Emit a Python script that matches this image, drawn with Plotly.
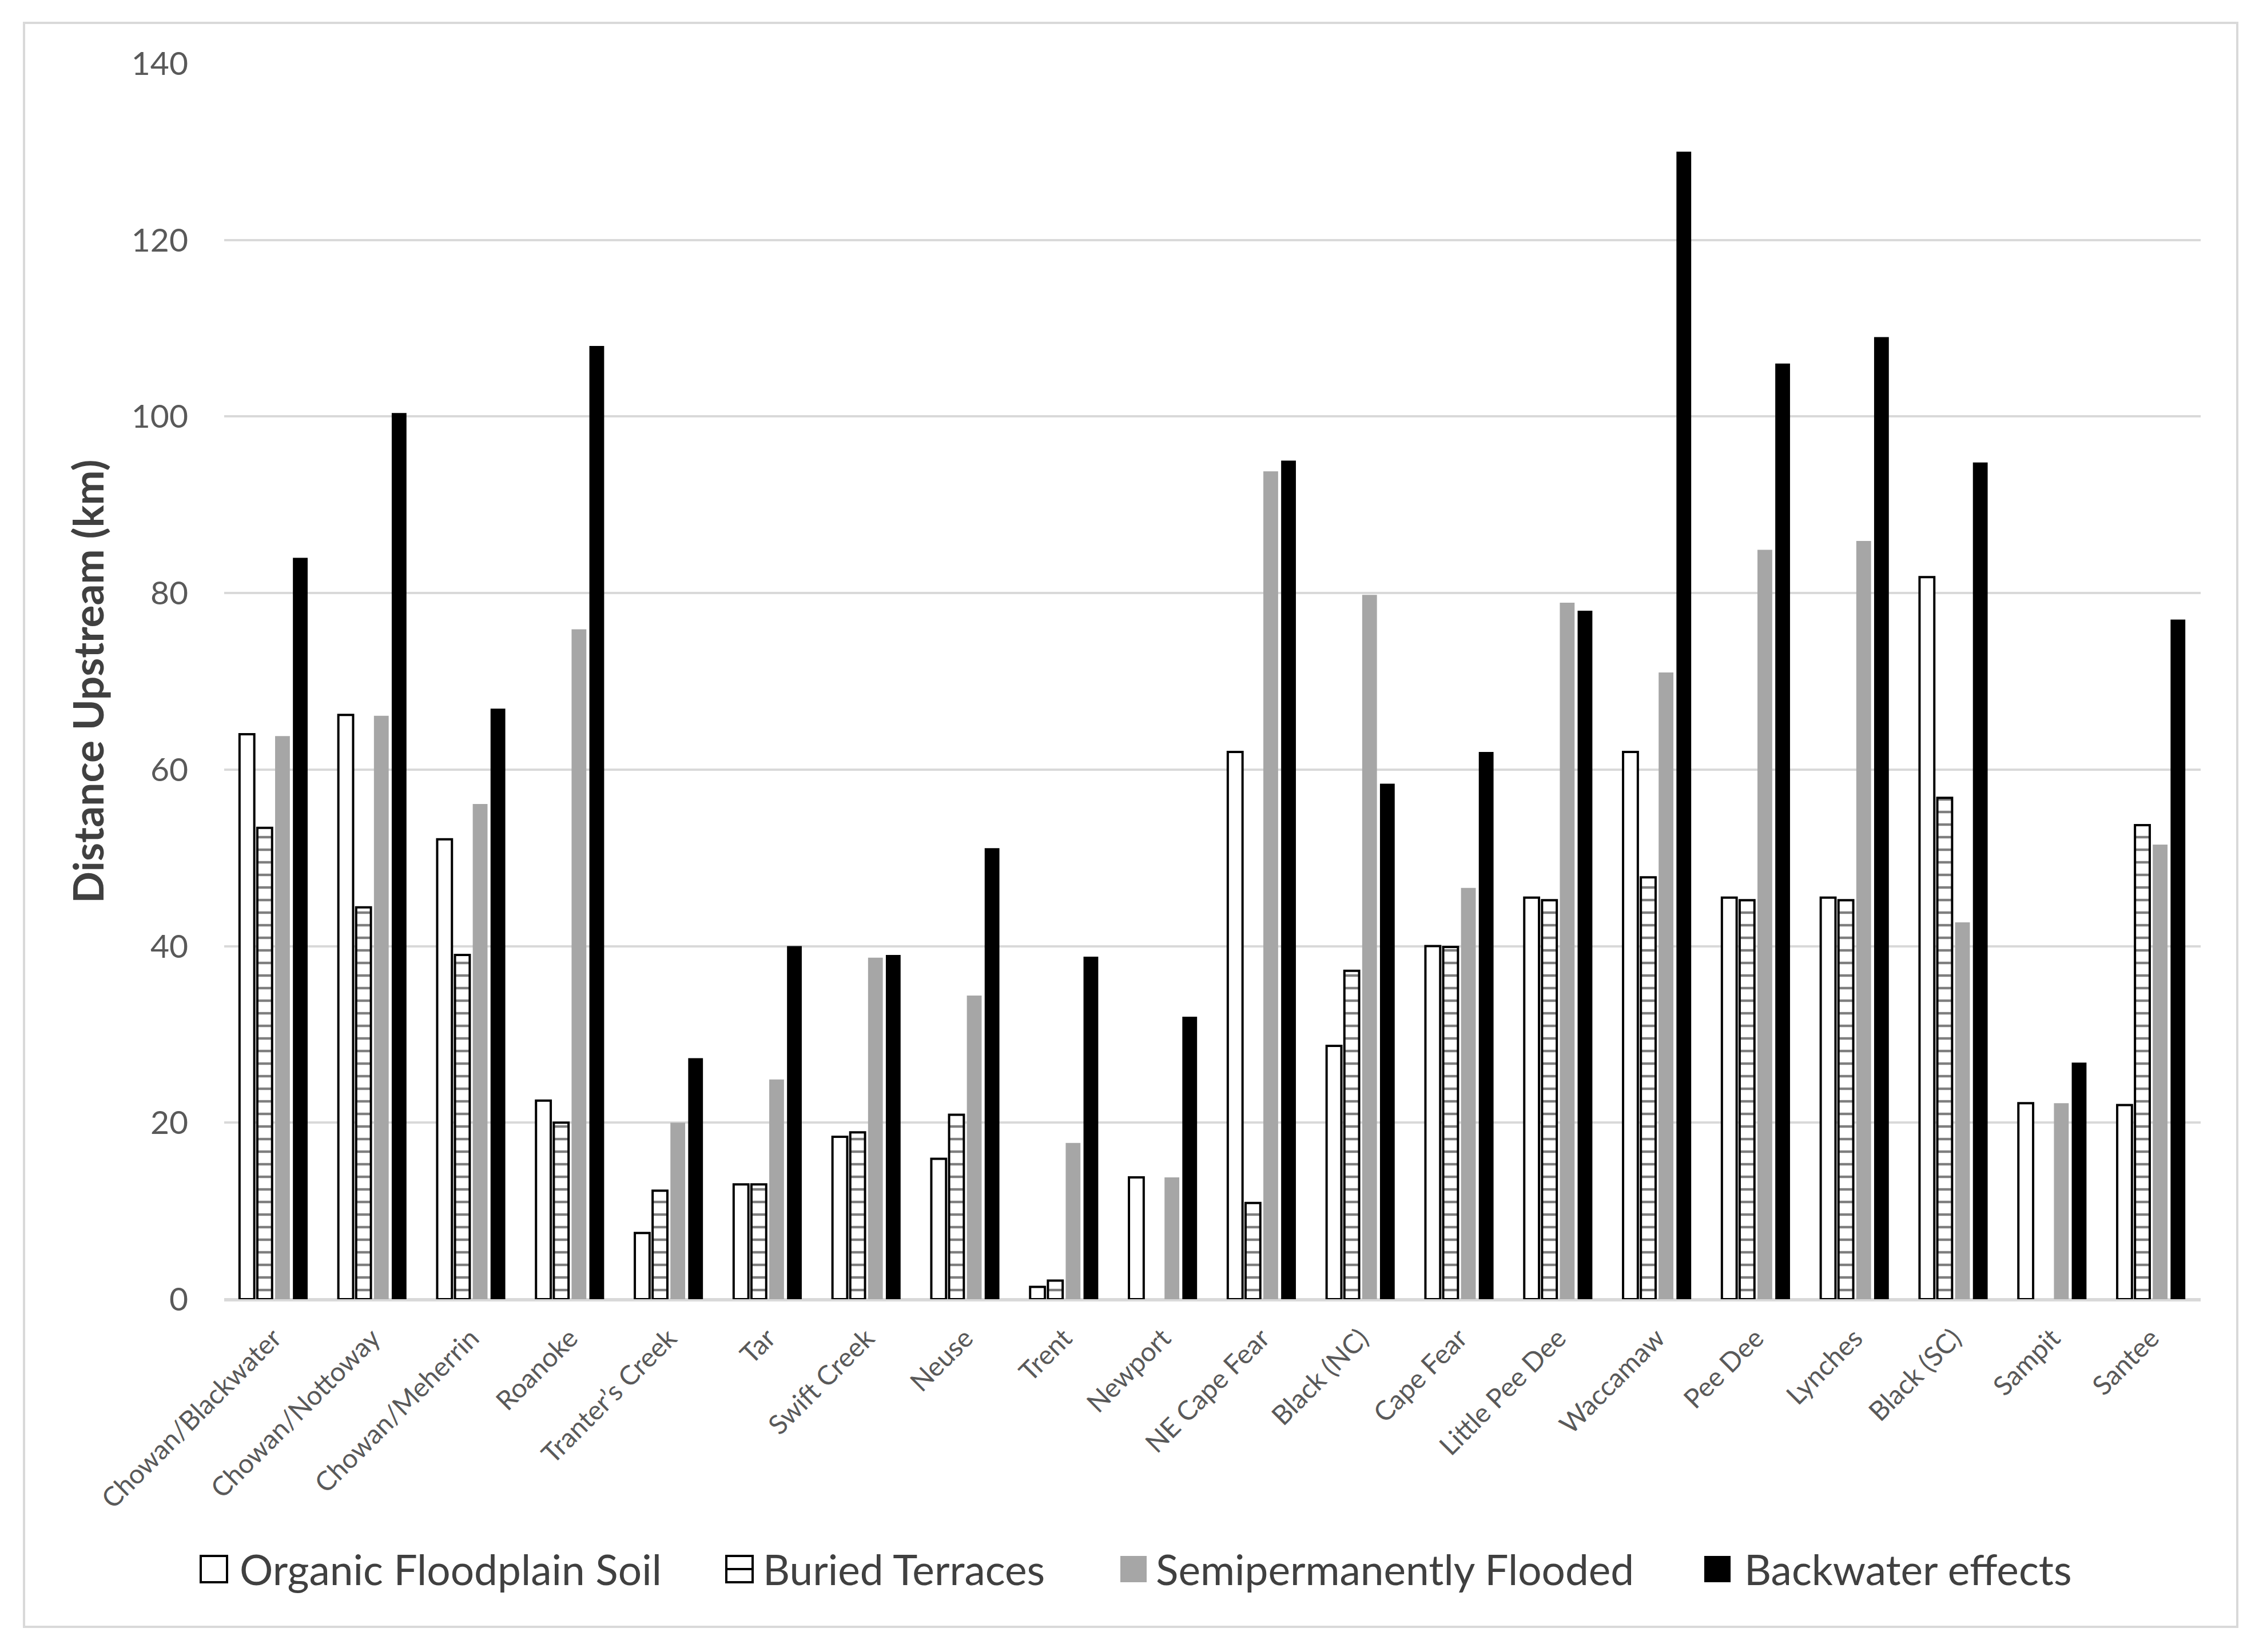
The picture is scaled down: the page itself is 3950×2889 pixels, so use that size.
import plotly.graph_objects as go

rivers = ["Chowan/Blackwater", "Chowan/Nottoway", "Chowan/Meherrin", "Roanoke",
          "Tranter\u2019s Creek", "Tar", "Swift Creek", "Neuse", "Trent", "Newport",
          "NE Cape Fear", "Black (NC)", "Cape Fear", "Little Pee Dee", "Waccamaw",
          "Pee Dee", "Lynches", "Black (SC)", "Sampit", "Santee"]

organic_soil = [64.0, 66.2, 52.1, 22.5, 7.5, 13.0, 18.4, 15.9, 1.4, 13.8,
                62.0, 28.7, 40.0, 45.5, 62.0, 45.5, 45.5, 81.8, 22.2, 22.0]
buried_terraces = [53.4, 44.4, 39.0, 20.0, 12.3, 13.0, 18.9, 20.9, 2.1, None,
                   10.9, 37.2, 39.9, 45.2, 47.8, 45.2, 45.2, 56.8, None, 53.7]
semiperm_flooded = [63.8, 66.1, 56.1, 75.9, 20.0, 24.9, 38.7, 34.4, 17.7, 13.8,
                    93.8, 79.8, 46.6, 78.9, 71.0, 84.9, 85.9, 42.7, 22.2, 51.5]
backwater = [84.0, 100.4, 66.9, 108.0, 27.3, 40.0, 39.0, 51.1, 38.8, 32.0,
             95.0, 58.4, 62.0, 78.0, 130.0, 106.0, 109.0, 94.8, 26.8, 77.0]

series_names = ["Organic Floodplain Soil", "Buried Terraces",
                "Semipermanently Flooded", "Backwater effects"]
y_ticks = [0, 20, 40, 60, 80, 100, 120, 140]

W, H = 3950, 2889
L, R, T, B = 392, 3848, 111, 2272
FONT = "Lato"
GRID = "#D9D9D9"

fig = go.Figure()
fig.add_trace(go.Bar(name=series_names[0], x=rivers, y=organic_soil,
                     marker=dict(color="white", line=dict(color="black", width=4)),
                     showlegend=False))
fig.add_trace(go.Bar(name=series_names[1], x=rivers, y=buried_terraces,
                     marker=dict(color="white", line=dict(color="black", width=4),
                                 pattern=dict(shape="-", fgcolor="black", bgcolor="white",
                                              size=22, solidity=0.2, fillmode="overlay")),
                     showlegend=False))
fig.add_trace(go.Bar(name=series_names[2], x=rivers, y=semiperm_flooded,
                     marker=dict(color="#A6A6A6", line=dict(width=0)),
                     showlegend=False))
fig.add_trace(go.Bar(name=series_names[3], x=rivers, y=backwater,
                     marker=dict(color="black", line=dict(width=0)),
                     showlegend=False))


def px_x(px):
    return (px - L) / (R - L)


def px_y(py):
    return (B - py) / (B - T)


shapes = []
annotations = []
# outer frame
shapes.append(dict(type="rect", xref="paper", yref="paper",
                   x0=px_x(42), x1=px_x(3912), y0=px_y(2845), y1=px_y(40),
                   line=dict(color=GRID, width=4), fillcolor="rgba(0,0,0,0)", layer="below"))

# custom legend (symbol boxes + labels)
leg_cy = 2744
box = 46
legend_items = [
    (351, 417, "white", "black", False),
    (1270, 1332, "white", "black", True),
    (1959, 2019, "#A6A6A6", None, False),
    (2980, 3048, "black", None, False),
]
for (bx, tx, fill, edge, midline), name in zip(legend_items, series_names):
    shapes.append(dict(type="rect", xref="paper", yref="paper",
                       x0=px_x(bx), x1=px_x(bx + box),
                       y0=px_y(leg_cy + box / 2), y1=px_y(leg_cy - box / 2),
                       fillcolor=fill,
                       line=dict(color=edge if edge else fill, width=4 if edge else 0)))
    if midline:
        shapes.append(dict(type="line", xref="paper", yref="paper",
                           x0=px_x(bx), x1=px_x(bx + box),
                           y0=px_y(leg_cy), y1=px_y(leg_cy),
                           line=dict(color="black", width=4)))
    annotations.append(dict(xref="paper", yref="paper", x=px_x(tx), y=px_y(leg_cy),
                            xanchor="left", yanchor="middle", showarrow=False,
                            text=name, font=dict(family=FONT, size=73, color="#404040")))

fig.update_layout(
    width=W, height=H,
    margin=dict(l=L, r=W - R, t=T, b=H - B, autoexpand=False),
    paper_bgcolor="white", plot_bgcolor="white",
    barmode="group", bargap=0.28, bargroupgap=0.17,
    showlegend=False,
    shapes=shapes, annotations=annotations,
    font=dict(family=FONT, color="#595959"),
)
fig.update_yaxes(range=[0, 140], tickvals=y_ticks, ticktext=[str(v) for v in y_ticks],
                 showgrid=True, gridcolor=GRID, gridwidth=4,
                 zeroline=True, zerolinecolor=GRID, zerolinewidth=4,
                 showline=False, ticks="", ticklabelstandoff=62,
                 tickfont=dict(family=FONT, size=57, color="#595959"),
                 title=dict(text="Distance Upstream (km)", standoff=24,
                            font=dict(family=FONT, size=73, color="#404040", weight="bold")))
fig.update_xaxes(showgrid=False, showline=True, linecolor=GRID, linewidth=4,
                 ticks="", tickangle=-45, ticklabelstandoff=18,
                 tickfont=dict(family=FONT, size=47, color="#595959"))

fig.write_html("out.html", config={"displayModeBar": False},
               post_script="document.body.style.margin='0';document.body.style.overflow='hidden';")
